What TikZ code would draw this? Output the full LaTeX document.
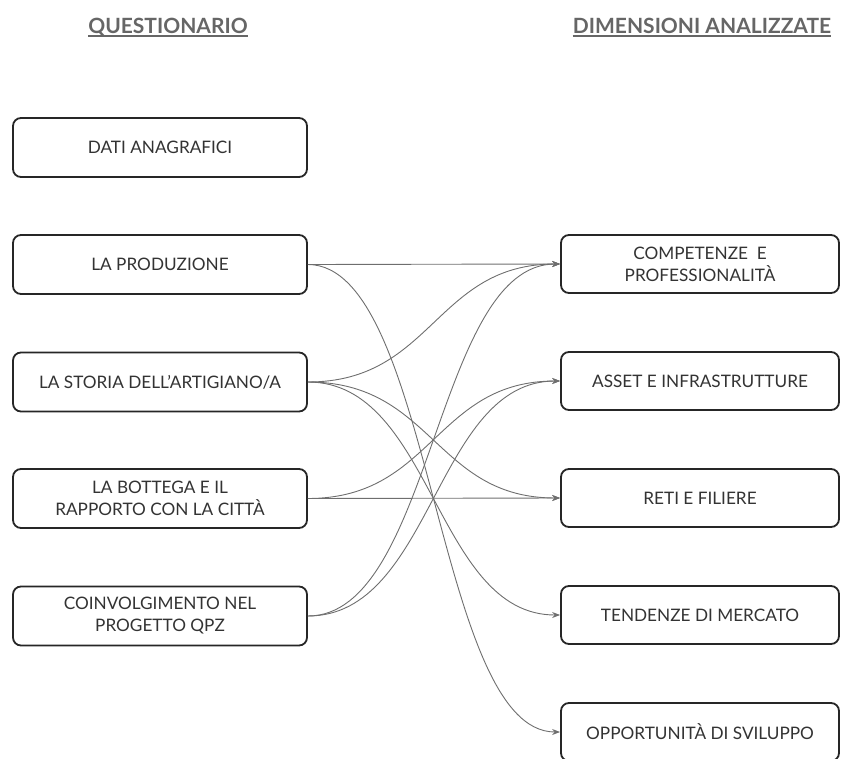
\documentclass[tikz,border=0pt]{standalone}
\usepackage{fontspec}
\setmainfont{Lato}
\usetikzlibrary{arrows.meta}
\definecolor{txt}{HTML}{333333}
\definecolor{hdr}{HTML}{666666}
\definecolor{ln}{HTML}{6E6E6E}
\begin{document}
\begin{tikzpicture}[x=1pt,y=-1pt,
  box/.style={draw=black!85, line width=1.8pt, rounded corners=8pt, fill=white, text=txt, align=center, font=\fontsize{17.2}{22}\selectfont, inner sep=0pt},
  lbox/.style={box, minimum width=294pt, minimum height=59pt},
  rbox/.style={box, minimum width=278pt, minimum height=58pt},
  hdrtext/.style={text=hdr, font=\bfseries\fontsize{21}{25}\selectfont, inner sep=0pt, anchor=base},
  hdrline/.style={draw=hdr, line width=2pt},
  conn/.style={draw=ln, line width=0.9pt, -{Stealth[length=8pt,width=6pt]}}]
\useasboundingbox (0,0) rectangle (841,758);
\begin{scope}
\clip (0,0) rectangle (841,758);
% headers
\node[hdrtext] (hq) at (168,33) {QUESTIONARIO};
\node[hdrtext] (hd) at (702,33) {DIMENSIONI ANALIZZATE};
\draw[hdrline] ([yshift=-3pt]hq.base west) -- ([yshift=-3pt]hq.base east);
\draw[hdrline] ([yshift=-3pt]hd.base west) -- ([yshift=-3pt]hd.base east);
% left boxes
\node[lbox] (l1) at (160,147.5) {DATI ANAGRAFICI};
\node[lbox] (l2) at (160,264.5) {LA PRODUZIONE};
\node[lbox] (l3) at (160,382) {LA STORIA DELL’ARTIGIANO/A};
\node[lbox] (l4) at (160,498.5) {LA BOTTEGA E IL\\RAPPORTO CON LA CITTÀ};
\node[lbox] (l5) at (160,616) {COINVOLGIMENTO NEL\\PROGETTO QPZ};
% right boxes
\node[rbox] (r1) at (700,264) {COMPETENZE\ \ E\\PROFESSIONALITÀ};
\node[rbox] (r2) at (700,381) {ASSET E INFRASTRUTTURE};
\node[rbox] (r3) at (700,498) {RETI E FILIERE};
\node[rbox] (r4) at (700,615) {TENDENZE DI MERCATO};
\node[rbox] (r5) at (700,732) {OPPORTUNITÀ DI SVILUPPO};
% connectors
\draw[conn] (l2.east) -- (r1.west);
\draw[conn] (l2.east) .. controls +(125,0) and +(-125,0) .. (r5.west);
\draw[conn] (l3.east) .. controls +(125,0) and +(-125,0) .. (r1.west);
\draw[conn] (l3.east) .. controls +(125,0) and +(-125,0) .. (r3.west);
\draw[conn] (l3.east) .. controls +(125,0) and +(-125,0) .. (r4.west);
\draw[conn] (l4.east) .. controls +(125,0) and +(-125,0) .. (r2.west);
\draw[conn] (l4.east) -- (r3.west);
\draw[conn] (l5.east) .. controls +(125,0) and +(-125,0) .. (r1.west);
\draw[conn] (l5.east) .. controls +(125,0) and +(-125,0) .. (r2.west);
\end{scope}
\end{tikzpicture}
\end{document}
